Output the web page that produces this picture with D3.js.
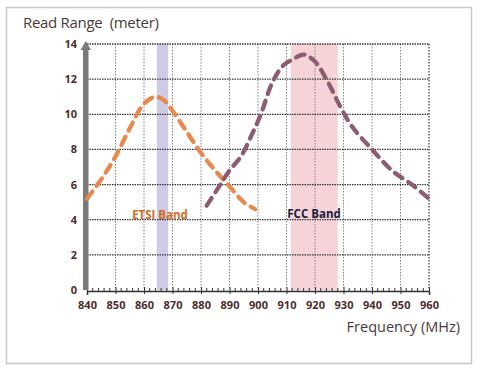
<!DOCTYPE html>
<html lang="en">
<head>
<meta charset="UTF-8">
<title>Read Range vs Frequency</title>
<script src="https://d3js.org/d3.v7.min.js"></script>
<style>
  body { margin: 0; background: #fff; }
  svg text { font-family: "Open Sans", "Noto Sans", sans-serif; }
</style>
</head>
<body>
<div id="chart"></div>
<script>
// data
const etsiFreq = [840, 845, 850, 855, 860, 864, 867, 870, 875, 880, 885, 890, 895, 899];
const etsiRange = [5.2, 6.3, 7.6, 9.2, 10.6, 11.0, 10.8, 10.2, 9.0, 7.8, 6.8, 5.9, 5.0, 4.6];
const fccFreq = [882, 886, 890, 894, 898, 901, 905, 909, 912, 916, 920, 924, 929, 933, 940, 947, 954, 960];
const fccRange = [4.8, 5.8, 6.8, 7.6, 8.9, 10.0, 11.8, 12.8, 13.1, 13.4, 13.0, 12.0, 10.4, 9.3, 8.0, 6.8, 6.0, 5.2];
const xTicks = [840, 850, 860, 870, 880, 890, 900, 910, 920, 930, 940, 950, 960];
const yTicks = [0, 2, 4, 6, 8, 10, 12, 14];
const etsiBand = [864.5, 868.5];
const fccBand = [911.5, 928];

const W = 483, H = 375;
const svg = d3.select("#chart").append("svg").attr("width", W).attr("height", H);

// outer frame
svg.append("rect").attr("x", 6.5).attr("y", 7.5).attr("width", 465).attr("height", 356)
  .attr("fill", "#fff").attr("stroke", "#c8c8c8").attr("stroke-width", 1.5);

const x = d3.scaleLinear().domain([840, 960]).range([87, 429]);
const y = d3.scaleLinear().domain([0, 14]).range([290, 44]);

// bands
svg.append("rect").attr("x", x(etsiBand[0])).attr("y", y(14))
  .attr("width", x(etsiBand[1]) - x(etsiBand[0])).attr("height", y(0) - y(14))
  .attr("fill", "#cfcbe4");
svg.append("rect").attr("x", x(fccBand[0])).attr("y", y(14))
  .attr("width", x(fccBand[1]) - x(fccBand[0])).attr("height", y(0) - y(14))
  .attr("fill", "#f6d3d6");

// grid
svg.append("g").selectAll("line").data(xTicks.slice(1)).join("line")
  .attr("x1", d => x(d)).attr("x2", d => x(d)).attr("y1", y(14)).attr("y2", y(0))
  .attr("stroke", d => d === 960 ? "#444" : "#777")
  .attr("stroke-width", d => d === 960 ? 1.3 : 0.9)
  .attr("stroke-dasharray", "1.5,1.5");
svg.append("g").selectAll("line").data(yTicks.slice(1)).join("line")
  .attr("x1", x(840)).attr("x2", x(960)).attr("y1", d => y(d)).attr("y2", d => y(d))
  .attr("stroke", "#333").attr("stroke-width", 1.3)
  .attr("stroke-dasharray", "1.5,1");

// x axis
const xAxis = svg.append("g").attr("transform", `translate(0,${y(0) + 1})`)
  .call(d3.axisBottom(x).tickValues(xTicks).tickSize(4).tickPadding(6).tickFormat(d3.format("d")));
xAxis.select(".domain").attr("stroke", "#333").attr("stroke-width", 1.5);
xAxis.selectAll(".tick line").attr("stroke", "#333").attr("y1", -4).attr("y2", 3);
xAxis.selectAll("text").attr("font-size", 11).attr("font-weight", "bold").attr("fill", "#4a2e2e");
// minor ticks
svg.append("g").selectAll("line").data(d3.range(842, 960, 2).filter(d => d % 10 !== 0)).join("line")
  .attr("x1", d => x(d)).attr("x2", d => x(d)).attr("y1", y(0) - 2).attr("y2", y(0) + 1)
  .attr("stroke", "#333").attr("stroke-width", 1);

// y tick labels
svg.append("g").selectAll("text").data(yTicks).join("text")
  .attr("x", 77).attr("y", d => y(d) + 4).attr("text-anchor", "end")
  .attr("font-size", 11).attr("font-weight", "bold").attr("fill", "#4a2e2e")
  .text(d => d);

// thick grey y axis with arrow head
svg.append("rect").attr("x", 83).attr("y", 48).attr("width", 5.5).attr("height", y(0) - 48)
  .attr("fill", "#7b7b7b");
svg.append("path").attr("d", "M80.5,50 L85.75,41 L91,50 Z").attr("fill", "#7b7b7b");

// lines
const line = d3.line().x(d => x(d[0])).y(d => y(d[1])).curve(d3.curveCatmullRom.alpha(0.5));
svg.append("path").datum(d3.zip(etsiFreq, etsiRange)).attr("d", line)
  .attr("fill", "none").attr("stroke", "#e8874e").attr("stroke-width", 4.3)
  .attr("stroke-dasharray", "9,7").attr("stroke-linecap", "round");
svg.append("path").datum(d3.zip(fccFreq, fccRange)).attr("d", line)
  .attr("fill", "none").attr("stroke", "#8c5c72").attr("stroke-width", 4.3)
  .attr("stroke-dasharray", "9,7").attr("stroke-linecap", "round");

// band labels
svg.append("text").attr("x", 160).attr("y", 219).attr("text-anchor", "middle")
  .attr("font-size", 11.5).attr("font-weight", "bold").attr("fill", "#d4691f").text("ETSI Band");
svg.append("text").attr("x", 314).attr("y", 218).attr("text-anchor", "middle")
  .attr("font-size", 11.5).attr("font-weight", "bold").attr("fill", "#1c1c40").text("FCC Band");

// axis titles
svg.append("text").attr("x", 23).attr("y", 28).attr("font-size", 15).attr("fill", "#4a3a3a")
  .attr("letter-spacing", "-0.3").style("white-space", "pre").text("Read Range  (meter)");
svg.append("text").attr("x", 460).attr("y", 332).attr("text-anchor", "end")
  .attr("font-size", 14.5).attr("fill", "#4a3a3a").text("Frequency (MHz)");
</script>
</body>
</html>
